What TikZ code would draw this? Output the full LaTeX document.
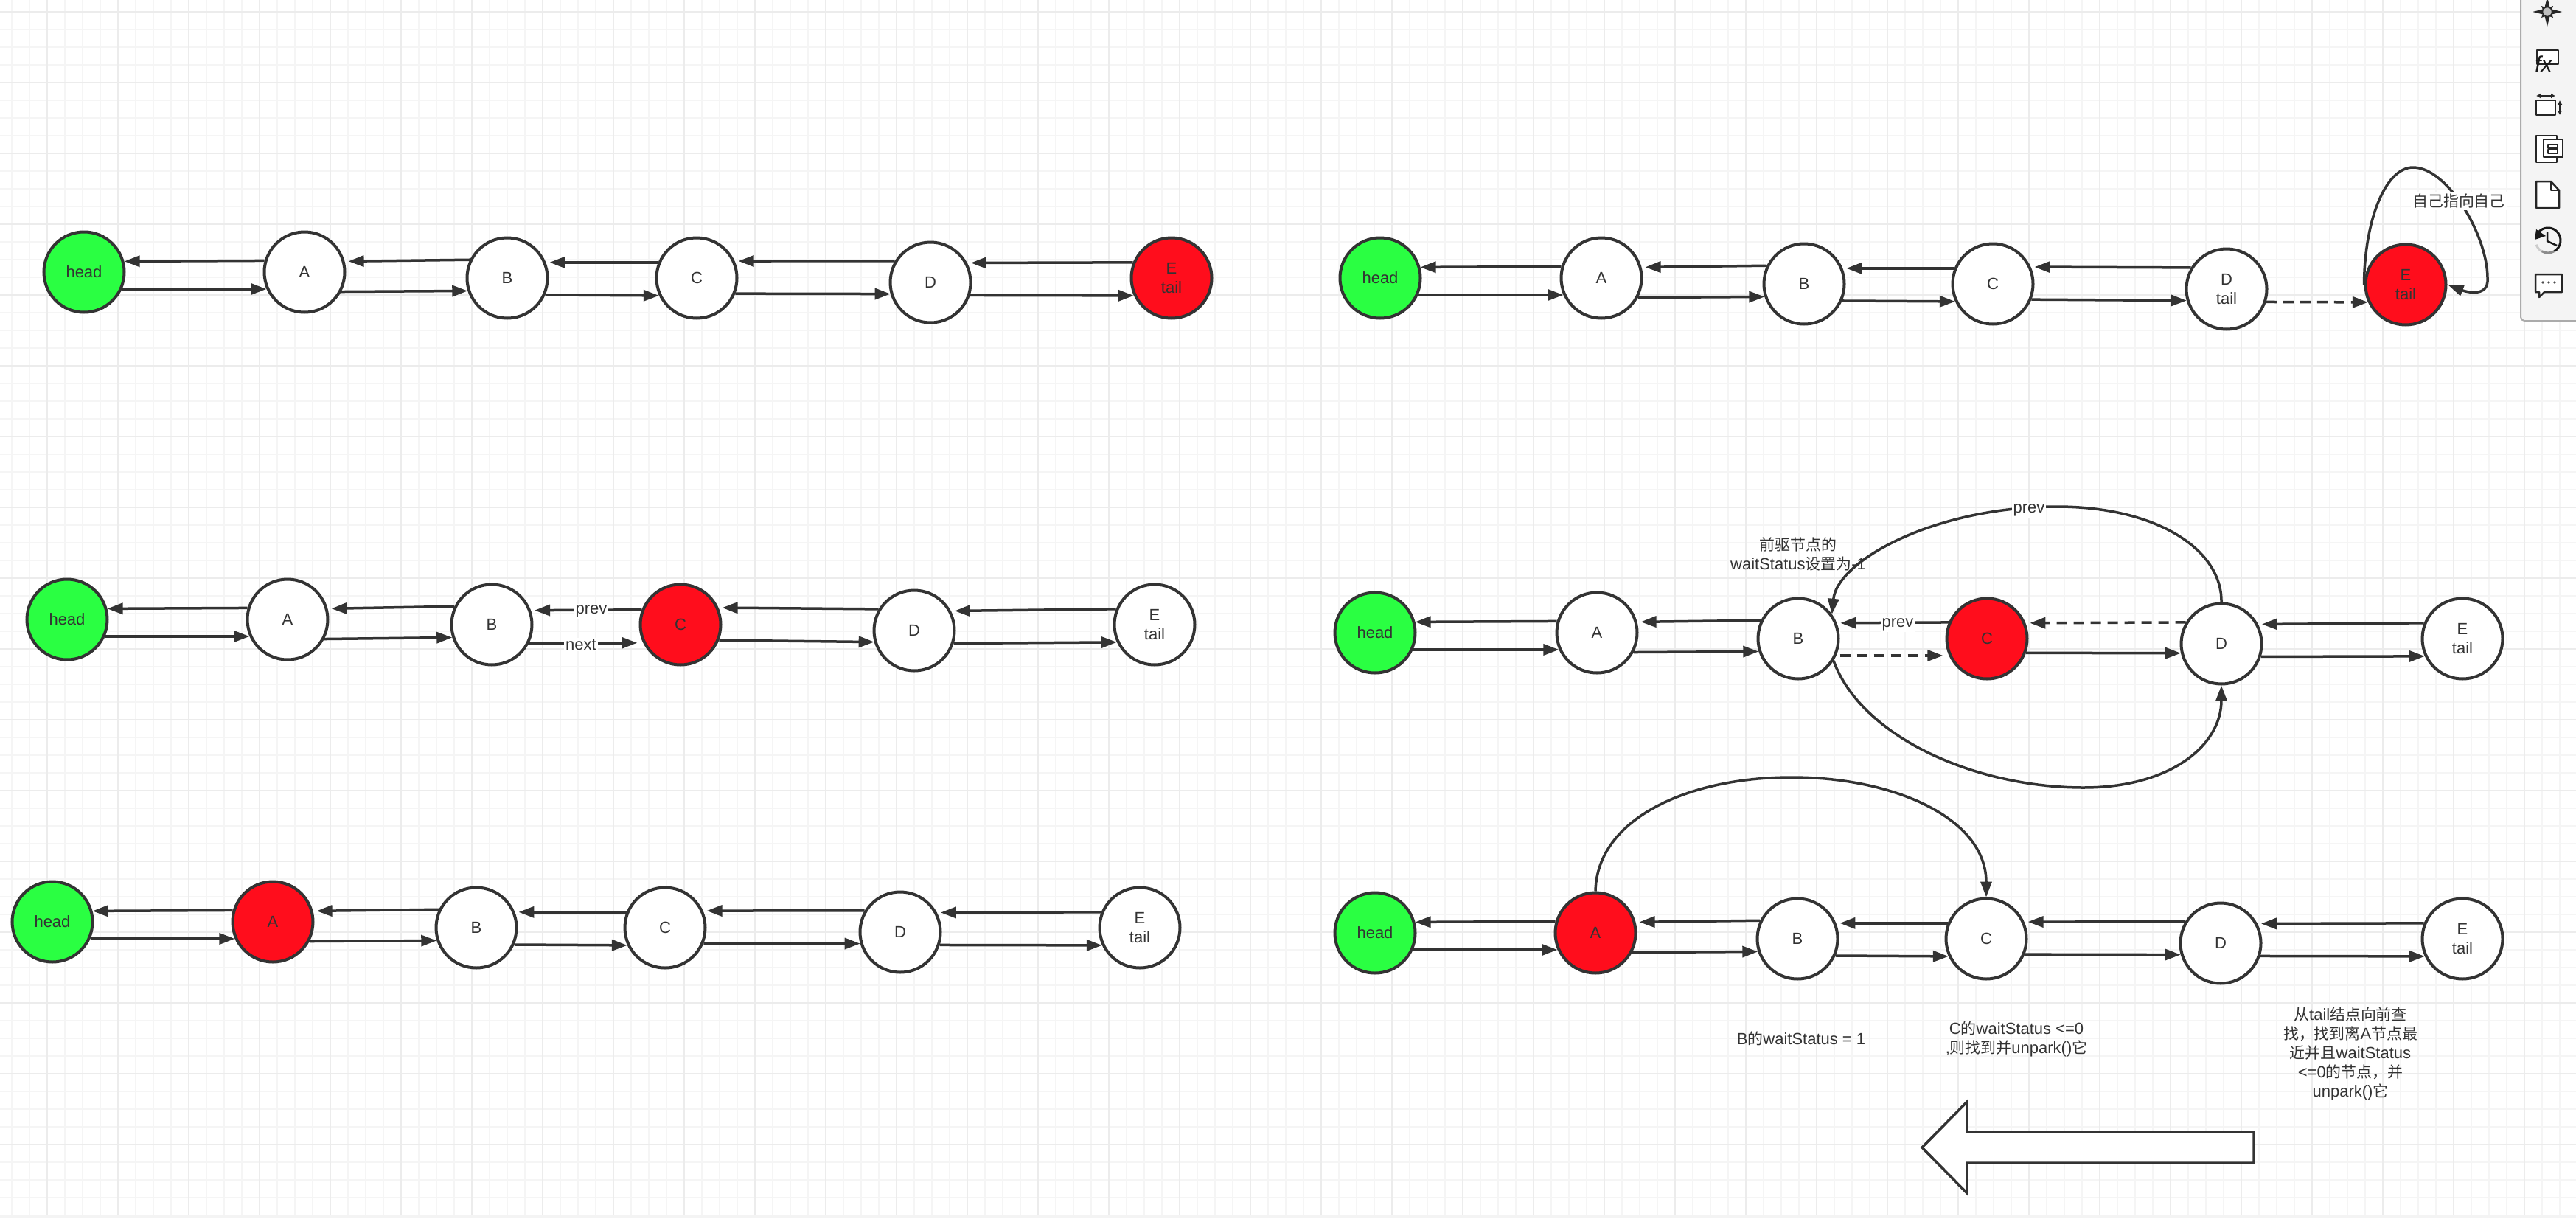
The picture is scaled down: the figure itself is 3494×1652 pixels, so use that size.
\documentclass[tikz,border=0pt]{standalone}
\usepackage{fontspec}
\setmainfont{Liberation Sans}
\newfontfamily\cjk[Scale=0.95]{Noto Sans CJK SC}
\usetikzlibrary{arrows.meta}
\definecolor{ink}{HTML}{333333}
\definecolor{gridminor}{HTML}{F5F5F5}
\definecolor{gridmajor}{HTML}{ECECEC}
\definecolor{nodegreen}{HTML}{2AFF42}
\definecolor{nodered}{HTML}{FF0D1C}
\definecolor{panel}{HTML}{F4F4F4}
\definecolor{paneledge}{HTML}{ABABAB}
\tikzset{
  every node/.style={text=ink,font=\fontsize{22}{26}\selectfont,align=center,inner sep=1pt},
  qnode/.style={circle,draw=ink,line width=4pt,minimum size=109pt,inner sep=0pt,fill=white},
  headnode/.style={qnode,fill=nodegreen},
  rednode/.style={qnode,fill=nodered},
  link/.style={draw=ink,line width=3.5pt,-{Triangle[length=21pt,width=15pt]}},
  dashlink/.style={link,dash pattern=on 14pt off 9pt},
  gapped/.style={shorten >=5pt},
  cutlabel/.style={fill=white,inner sep=2pt},
  icon/.style={draw=black!85,line width=2.5pt,line join=round},
}
% link leaving the left side of #2 for the right side of #3; #4, #5 are vertical offsets from the centres
\newcommand{\bk}[5][]{%
  \pgfmathsetmacro\angfrom{180+asin((#4)/56.5)}%
  \pgfmathsetmacro\angto{-asin((#5)/56.5)}%
  \draw[link,#1] (#2.\angfrom) -- (#3.\angto);}
% link leaving the right side of #2 for the left side of #3
\newcommand{\fw}[5][]{%
  \pgfmathsetmacro\angfrom{-asin((#4)/56.5)}%
  \pgfmathsetmacro\angto{180+asin((#5)/56.5)}%
  \draw[link,#1] (#2.\angfrom) -- (#3.\angto);}
% the pair of pointers between neighbouring queue nodes
\newcommand{\pairHA}[1]{\bk{#1A}{#1h}{-15}{-15}\fw{#1h}{#1A}{23}{23}}
\newcommand{\pairAB}[1]{\bk[gapped]{#1B}{#1A}{-24}{-15}\fw{#1A}{#1B}{27}{18}}
\newcommand{\pairBC}[1]{\bk[gapped]{#1C}{#1B}{-21}{-22}\fw{#1B}{#1C}{23}{24}}
\newcommand{\pairCD}[1]{\bk[gapped]{#1D}{#1C}{-29}{-23}\fw{#1C}{#1D}{22}{16}}
\newcommand{\pairDE}[1]{\bk[gapped]{#1E}{#1D}{-21}{-27}\fw{#1D}{#1E}{18}{24}}
\begin{document}
\begin{tikzpicture}[x=1pt,y=-1pt]
\useasboundingbox (0,0) rectangle (3494,1652);
\fill[white] (0,0) rectangle (3494,1652);

% canvas grid
\foreach \gx in {16,40,...,3494} \draw[gridminor,line width=2pt] (\gx,0) -- (\gx,1647);
\foreach \gy in {16,40,...,1647} \draw[gridminor,line width=2pt] (0,\gy) -- (3494,\gy);
\foreach \gx in {64,160,...,3494} \draw[gridmajor,line width=2.5pt] (\gx,0) -- (\gx,1647);
\foreach \gy in {16,112,...,1647} \draw[gridmajor,line width=2.5pt] (0,\gy) -- (3494,\gy);
\fill[panel] (0,1647) rectangle (3494,1652);

% side panel and its tool icons
\draw[paneledge,fill=panel,line width=2pt,rounded corners=5pt] (3419,-10) -- (3419,435) -- (3504,435) -- (3504,-10) -- cycle;
\fill[black!85] (3455,-4) -- (3459,12) -- (3475,16) -- (3459,20) -- (3455,36) -- (3451,20) -- (3435,16) -- (3451,12) -- cycle;
\fill[black!85] (3447,8) -- (3455,11) -- (3463,8) -- (3460,16) -- (3463,24) -- (3455,21) -- (3447,24) -- (3450,16) -- cycle;
\draw[black!85,line width=1.5pt,fill=black!25] (3455,16) circle (6.5pt);
\draw[icon,fill=white] (3441,68) rectangle (3470,87);
\node[font=\fontsize{30}{30}\selectfont\itshape\rmfamily,text=black!90,inner sep=0pt] (fxmark) at (3450,87) {fx};
\draw[icon,fill=white] (3440,136) rectangle (3466,156);
\draw[icon,{Latex[length=6pt,width=7pt]}-{Latex[length=6pt,width=7pt]}] (3440,130) -- (3466,130);
\draw[icon,{Latex[length=6pt,width=7pt]}-{Latex[length=6pt,width=7pt]}] (3472,136) -- (3472,156);
\draw[icon,fill=white] (3440,184) rectangle (3468,220);
\draw[icon,fill=white] (3450,189) rectangle (3476,213);
\draw[icon] (3456,196) rectangle (3469,201);
\draw[icon] (3456,203) rectangle (3469,208);
\draw[icon,fill=white] (3440,246) -- (3460,246) -- (3471,258) -- (3471,282) -- (3440,282) -- cycle;
\draw[icon] (3460,246) -- (3460,258) -- (3471,258);
% history clock: the ring fades out towards the lower left
\draw[black!90,line width=3pt] (3443,315) arc[start angle=140,end angle=-60,radius=17pt];
\draw[black!45,line width=3pt] (3464.5,340.7) arc[start angle=-60,end angle=-120,radius=17pt];
\draw[black!20,line width=3pt] (3447.5,340.7) arc[start angle=-120,end angle=-160,radius=17pt];
\fill[black!90] (3438,325) -- (3440,311) -- (3453,320) -- cycle;
\draw[black!90,line width=2.5pt] (3455,315) -- (3455,327) -- (3468,333);
\draw[icon,fill=white] (3439,372) -- (3475,372) -- (3475,396) -- (3451,396) -- (3444,403) -- (3444,396) -- (3439,396) -- cycle;
\fill[black!70] (3449,383) circle (1.8pt) (3457,383) circle (1.8pt) (3465,383) circle (1.8pt);

% top left queue
\node[headnode] (ph) at (114,369) {head};
\node[qnode] (pA) at (413,369) {A};
\node[qnode] (pB) at (688,377) {B};
\node[qnode] (pC) at (945,377) {C};
\node[qnode] (pD) at (1262,383) {D};
\node[rednode] (pE) at (1589,377) {E\\tail};
\pairHA{p}\pairAB{p}\pairBC{p}\pairCD{p}\pairDE{p}

% top right queue: E has left the list and points at itself
\node[headnode] (qh) at (1872,377) {head};
\node[qnode] (qA) at (2172,377) {A};
\node[qnode] (qB) at (2447,385) {B};
\node[qnode] (qC) at (2703,385) {C};
\node[qnode] (qD) at (3020,392) {D\\tail};
\node[rednode] (qE) at (3263,386) {E\\tail};
\pairHA{q}\pairAB{q}\pairBC{q}\pairCD{q}
\fw[dashlink]{qD}{qE}{18}{24}
\coordinate (loopTop) at (3273,227);
\coordinate (loopRight) at (3374,377);
\draw[link,shorten >=1pt] (qE.west) .. controls (3207,300) and (3235,227) .. (loopTop)
  .. controls (3320,227) and (3374,320) .. (loopRight)
  .. controls (3376,405) and (3343,395) .. (qE.east);
\node[cutlabel] (selfnote) at (3335,273) {\cjk 自己指向自己};

% middle left queue: C being cancelled
\node[headnode] (rh) at (91,840) {head};
\node[qnode] (rA) at (390,840) {A};
\node[qnode] (rB) at (667,847) {B};
\node[rednode] (rC) at (923,847) {C};
\node[qnode] (rD) at (1240,855) {D};
\node[qnode] (rE) at (1566,847) {E\\tail};
\pairHA{r}\pairAB{r}\pairCD{r}\pairDE{r}
\bk[gapped]{rC}{rB}{-20}{-20}
\fw[shorten >=8pt]{rB}{rC}{25}{25}
\node[cutlabel] (rprev) at (802,829) {prev};
\node[cutlabel] (rnext) at (788,874) {next};

% middle right queue: B and D linked past C
\node[headnode] (sh) at (1865,858) {head};
\node[qnode] (sA) at (2166,858) {A};
\node[qnode] (sB) at (2439,866) {B};
\node[rednode] (sC) at (2695,866) {C};
\node[qnode] (sD) at (3013,873) {D};
\node[qnode] (sE) at (3340,866) {E\\tail};
\pairHA{s}\pairAB{s}\pairDE{s}
\bk[gapped]{sC}{sB}{-22}{-22}
\fw[dashlink,shorten <=5pt,shorten >=8pt]{sB}{sC}{23}{23}
\bk[dashlink,shorten >=6pt]{sD}{sC}{-29}{-22}
\fw{sC}{sD}{20}{13}
\coordinate (overTop) at (2790,687);
\coordinate (underBottom) at (2826,1068);
\draw[link] (sD.north) .. controls (3014,745) and (2925,687) .. (overTop)
  .. controls (2625,687) and (2492,760) .. (sB.36);
\draw[link] (sB.-32) .. controls (2525,1000) and (2680,1068) .. (underBottom)
  .. controls (2945,1068) and (3013,1010) .. (sD.south);
\node[cutlabel,fill=white] (sprevlong) at (2752,692) {prev};
\node[cutlabel] (sprev) at (2574,847) {prev};
\node (snote) at (2439,752) {{\cjk 前驱节点的}\\waitStatus{\cjk 设置为}-1};

% bottom left queue
\node[headnode] (th) at (71,1250) {head};
\node[rednode] (tA) at (370,1250) {A};
\node[qnode] (tB) at (646,1258) {B};
\node[qnode] (tC) at (902,1258) {C};
\node[qnode] (tD) at (1221,1264) {D};
\node[qnode] (tE) at (1546,1258) {E\\tail};
\pairHA{t}\pairAB{t}\pairBC{t}\pairCD{t}\pairDE{t}

% bottom right queue: A wakes C
\node[headnode] (uh) at (1865,1265) {head};
\node[rednode] (uA) at (2164,1265) {A};
\node[qnode] (uB) at (2438,1273) {B};
\node[qnode] (uC) at (2694,1273) {C};
\node[qnode] (uD) at (3012,1279) {D};
\node[qnode] (uE) at (3340,1273) {E\\tail};
\pairHA{u}\pairAB{u}\pairBC{u}\pairCD{u}\pairDE{u}
\coordinate (wakeTop) at (2430,1054);
\draw[link] (uA.north) .. controls (2166,1110) and (2290,1054) .. (wakeTop)
  .. controls (2570,1054) and (2694,1110) .. (uC.north);
\node (bnote) at (2443,1408) {B{\cjk 的}waitStatus = 1};
\node (cnote) at (2735,1409) {C{\cjk 的}waitStatus <=0\\,{\cjk 则找到并}unpark(){\cjk 它}};
\node (tailnote) at (3188,1429) {{\cjk 从}tail{\cjk 结点向前查}\\{\cjk 找，找到离}A{\cjk 节点最}\\{\cjk 近并且}waitStatus\\<=0{\cjk 的节点，并}\\unpark(){\cjk 它}};

% block arrow showing the search direction
\draw[ink,line width=3.5pt,fill=white,line join=miter] (2607,1556) -- (2668,1494) -- (2668,1535) -- (3057,1535) -- (3057,1577) -- (2668,1577) -- (2668,1618) -- cycle;
\end{tikzpicture}
\end{document}
